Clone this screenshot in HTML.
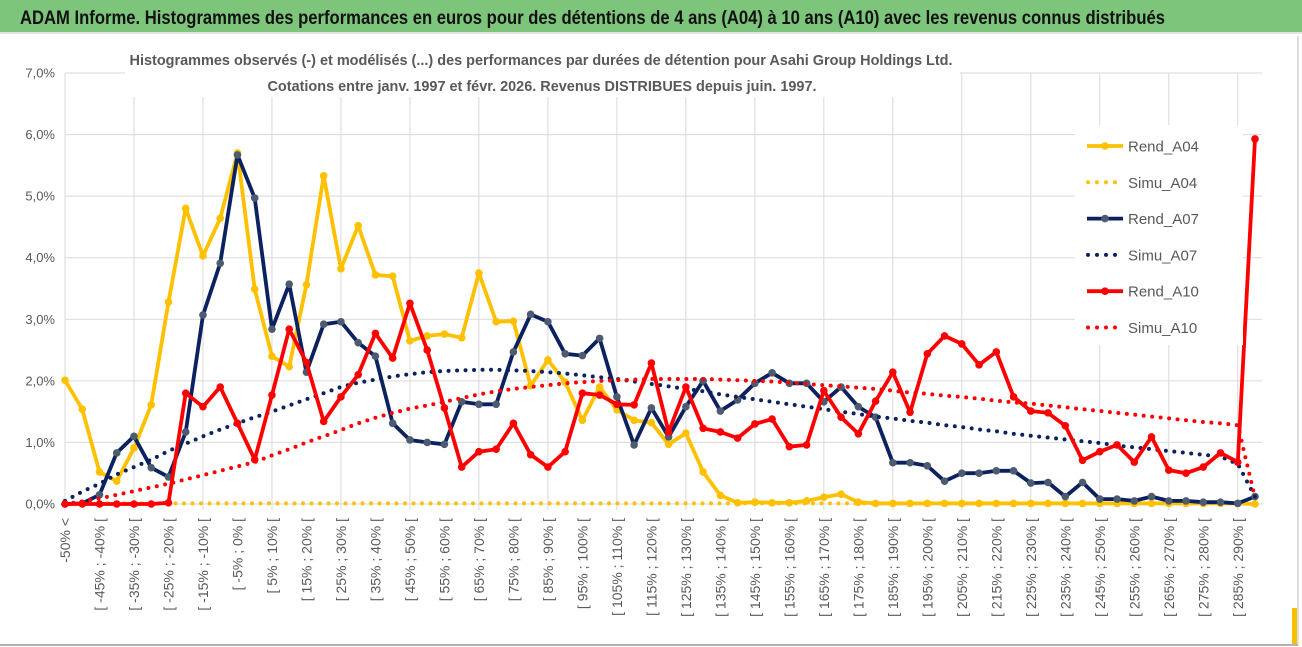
<!DOCTYPE html>
<html><head><meta charset="utf-8">
<style>
html,body{margin:0;padding:0;background:#fff;}
svg{display:block;font-family:"Liberation Sans",sans-serif;}
</style></head>
<body>
<svg id="chart" width="1302" height="647" viewBox="0 0 1302 647" xmlns="http://www.w3.org/2000/svg">
  <rect x="0" y="0" width="1302" height="647" fill="#fff"/>
  <rect x="0" y="0" width="1302" height="32" fill="#7dc57b"/>
  <line x1="0" y1="33" x2="1302" y2="33" stroke="#d8d8d8" stroke-width="1.5"/>
  <text x="20" y="24" font-size="19" font-weight="bold" fill="#111" textLength="1145" lengthAdjust="spacingAndGlyphs">ADAM Informe. Histogrammes des performances en euros pour des détentions de 4 ans (A04) à 10 ans (A10) avec les revenus connus distribués</text>
  <g id="grid"></g>
  <g id="yaxis"></g>
  <g id="xaxis"></g>
  <rect x="125" y="40" width="835" height="57" fill="#fff"/>
  <text x="541" y="65" font-size="15" font-weight="bold" fill="#595959" text-anchor="middle" textLength="823" lengthAdjust="spacingAndGlyphs">Histogrammes observés (-) et modélisés (...) des performances par durées de détention pour Asahi Group Holdings Ltd.</text>
  <text x="542" y="91" font-size="15" font-weight="bold" fill="#595959" text-anchor="middle" textLength="549" lengthAdjust="spacingAndGlyphs">Cotations entre janv. 1997 et févr. 2026. Revenus DISTRIBUES depuis juin. 1997.</text>
  <g id="series"></g>
  <g id="legend"></g>
  <line x1="0" y1="645" x2="1298" y2="645" stroke="#9a9a9a" stroke-width="1.5"/>
  <line x1="1298" y1="36" x2="1298" y2="645" stroke="#bdbdbd" stroke-width="1"/>
  <rect x="1292" y="608" width="5" height="36" fill="#f5c000"/>
</svg>
<script>
const rendA04 = [2.01,1.54,0.52,0.37,0.91,1.61,3.28,4.80,4.03,4.64,5.70,3.49,2.40,2.23,3.56,5.33,3.82,4.52,3.72,3.70,2.65,2.73,2.76,2.70,3.75,2.96,2.97,1.92,2.34,1.98,1.36,1.90,1.53,1.36,1.32,0.97,1.15,0.52,0.14,0.02,0.03,0.02,0.02,0.05,0.11,0.16,0.03,0.01,0.01,0.01,0.01,0.01,0.01,0.01,0.01,0.01,0.01,0.01,0.01,0.01,0.01,0.01,0.01,0.01,0.01,0.01,0.01,0.01,0.01,0.0];
const simuA04 = [0.01,0.01,0.01,0.01,0.01,0.01,0.01,0.01,0.01,0.01,0.01,0.01,0.01,0.01,0.01,0.01,0.01,0.01,0.01,0.01,0.01,0.01,0.01,0.01,0.01,0.01,0.01,0.01,0.01,0.01,0.01,0.01,0.01,0.01,0.01,0.01,0.01,0.01,0.01,0.01,0.01,0.01,0.01,0.01,0.01,0.01,0.01,0.01,0.01,0.01,0.01,0.01,0.01,0.01,0.01,0.01,0.01,0.01,0.01,0.01,0.01,0.01,0.01,0.01,0.01,0.01,0.01,0.01,0.01,0.0];
const rendA07 = [0.0,0.01,0.15,0.83,1.10,0.59,0.44,1.17,3.07,3.91,5.67,4.97,2.84,3.57,2.14,2.92,2.96,2.62,2.40,1.31,1.04,1.00,0.97,1.66,1.62,1.62,2.47,3.08,2.96,2.44,2.41,2.69,1.74,0.96,1.56,1.09,1.58,2.00,1.51,1.69,1.96,2.13,1.96,1.96,1.66,1.90,1.58,1.41,0.67,0.67,0.62,0.37,0.50,0.50,0.54,0.54,0.34,0.35,0.12,0.35,0.08,0.08,0.05,0.12,0.05,0.05,0.03,0.03,0.01,0.12];
const simuA07 = [0.05,0.20,0.33,0.48,0.60,0.72,0.86,0.98,1.10,1.21,1.31,1.41,1.50,1.60,1.70,1.80,1.90,1.97,2.02,2.07,2.11,2.14,2.16,2.17,2.18,2.18,2.17,2.16,2.14,2.12,2.09,2.06,2.03,1.99,1.95,1.91,1.87,1.83,1.78,1.74,1.70,1.66,1.62,1.58,1.54,1.50,1.46,1.42,1.39,1.35,1.32,1.28,1.25,1.21,1.18,1.14,1.11,1.08,1.05,1.02,0.99,0.95,0.92,0.89,0.86,0.83,0.80,0.77,0.65,0.12];
const rendA10 = [0.0,0.0,0.0,0.0,0.0,0.0,0.02,1.80,1.58,1.90,1.31,0.72,1.77,2.84,2.30,1.34,1.74,2.10,2.77,2.37,3.26,2.50,1.56,0.60,0.85,0.89,1.31,0.80,0.60,0.85,1.80,1.77,1.62,1.61,2.29,1.17,1.90,1.23,1.17,1.07,1.30,1.38,0.93,0.96,1.84,1.41,1.14,1.67,2.14,1.49,2.44,2.73,2.60,2.26,2.47,1.74,1.51,1.48,1.27,0.71,0.85,0.96,0.68,1.09,0.55,0.50,0.60,0.83,0.68,5.93];
const simuA10 = [0.0,0.04,0.09,0.15,0.21,0.27,0.33,0.40,0.47,0.54,0.61,0.68,0.79,0.89,1.00,1.10,1.20,1.31,1.40,1.48,1.55,1.60,1.66,1.72,1.78,1.83,1.87,1.90,1.93,1.96,1.98,2.00,2.01,2.02,2.03,2.03,2.03,2.03,2.02,2.01,2.00,1.99,1.97,1.95,1.93,1.91,1.89,1.87,1.84,1.81,1.79,1.76,1.74,1.71,1.68,1.65,1.63,1.60,1.57,1.54,1.51,1.48,1.45,1.42,1.39,1.36,1.33,1.31,1.28,0.10];
const yTicks = [0,1,2,3,4,5,6,7];
const yTickLabels = ["0,0%","1,0%","2,0%","3,0%","4,0%","5,0%","6,0%","7,0%"];
const categories = (function(){
  const c = ["-50% <"];
  for (let k = 1; k < 69; k++) c.push("[ " + (-55 + 5*k) + "% ; " + (-50 + 5*k) + "% [");
  c.push("> 290%");
  return c;
})();

const NS = "http://www.w3.org/2000/svg";
const X0 = 65, X1 = 1255, Y0 = 504, YTOP = 73, YMAX = 7;
const n = categories.length;
function xs(i){ return X0 + (X1 - X0) * i / (n - 1); }
function ys(v){ return Y0 - (Y0 - YTOP) * v / YMAX; }
function mk(tag, attrs, parent){
  const e = document.createElementNS(NS, tag);
  for (const k in attrs) e.setAttribute(k, attrs[k]);
  parent.appendChild(e);
  return e;
}

const grid = document.getElementById('grid');
yTicks.forEach((t, i) => {
  const l = mk('line', {x1: X0, x2: 1262, y1: ys(t), y2: ys(t), stroke: '#d9d9d9', 'stroke-width': 1}, grid);
  
  
});
for (let i = 0; i < n; i += 4) {
  const l = mk('line', {x1: xs(i), x2: xs(i), y1: YTOP, y2: Y0 + 6, stroke: '#d9d9d9', 'stroke-width': 1}, grid);
  
  
}

const yaxis = document.getElementById('yaxis');
yTicks.forEach((t, i) => {
  const tx = mk('text', {x: 55, y: ys(t) + 4.5, 'text-anchor': 'end', 'font-size': 13, fill: '#595959'}, yaxis);
  tx.textContent = yTickLabels[i];
  
  
});

const xaxis = document.getElementById('xaxis');
for (let i = 0; i < n - 1; i += 2) {
  const x = xs(i) + 5, y = 518;
  const tx = mk('text', {x: x, y: y, 'text-anchor': 'end', 'font-size': 14, fill: '#595959', transform: 'rotate(-90 ' + x + ' ' + y + ')'}, xaxis);
  tx.textContent = categories[i];
  
  
}

const series = document.getElementById('series');
function drawRend(vals, color, mcolor, name){
  const g = mk('g', {}, series);
  
  
  const pts = vals.map((v, i) => xs(i).toFixed(1) + ',' + ys(v).toFixed(1)).join(' ');
  mk('polyline', {points: pts, fill: 'none', stroke: color, 'stroke-width': 3.8, 'stroke-linejoin': 'round'}, g);
  vals.forEach((v, i) => {
    const c = mk('circle', {cx: xs(i), cy: ys(v), r: 3.8, fill: mcolor}, g);
    
    
  });
}
function drawSimu(vals, color, name){
  const pts = vals.map((v, i) => xs(i).toFixed(1) + ',' + ys(v).toFixed(1)).join(' ');
  const p = mk('polyline', {points: pts, fill: 'none', stroke: color, 'stroke-width': 4, 'stroke-linecap': 'round', 'stroke-dasharray': '0 8.5'}, series);
  
  
}
drawRend(rendA04, '#ffc000', '#ffc000', 'rend-a04-line');
drawSimu(simuA04, '#ffc000', 'simu-a04-line');
drawRend(rendA07, '#0b2160', '#4d5b70', 'rend-a07-line');
drawSimu(simuA07, '#0b2160', 'simu-a07-line');
drawRend(rendA10, '#ff0000', '#ff0000', 'rend-a10-line');
drawSimu(simuA10, '#ff0000', 'simu-a10-line');

const legend = document.getElementById('legend');
mk('rect', {x: 1075, y: 125, width: 168, height: 220, fill: '#fff'}, legend);
const legItems = [
  ['Rend_A04', '#ffc000', '#ffc000', false],
  ['Simu_A04', '#ffc000', null, true],
  ['Rend_A07', '#0b2160', '#4d5b70', false],
  ['Simu_A07', '#0b2160', null, true],
  ['Rend_A10', '#ff0000', '#ff0000', false],
  ['Simu_A10', '#ff0000', null, true]
];
legItems.forEach((it, i) => {
  const y = 146 + i * 36.3;
  const g = mk('g', {}, legend);
  
  
  if (it[3]) {
    mk('line', {x1: 1088, x2: 1124, y1: y, y2: y, stroke: it[1], 'stroke-width': 4, 'stroke-linecap': 'round', 'stroke-dasharray': '0 9'}, g);
  } else {
    mk('line', {x1: 1087, x2: 1123, y1: y, y2: y, stroke: it[1], 'stroke-width': 3.8}, g);
    mk('circle', {cx: 1105, cy: y, r: 3.8, fill: it[2]}, g);
  }
  const t = mk('text', {x: 1128, y: y + 5.5, 'font-size': 15, fill: '#595959'}, g);
  t.textContent = it[0];
});
</script>
</body></html>
